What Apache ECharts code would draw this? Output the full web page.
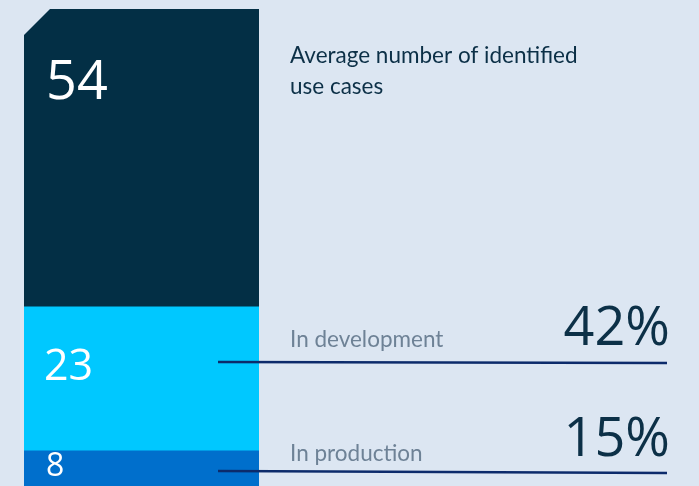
<!DOCTYPE html>
<html>
<head>
<meta charset="utf-8">
<script src="https://cdn.jsdelivr.net/npm/echarts@6/dist/echarts.min.js"></script>
<style>
  html, body { margin: 0; padding: 0; background: #dce6f2; }
  #chart { width: 699px; height: 486px; }
</style>
</head>
<body>
<div id="chart"></div>
<script>
// Use-case funnel: identified -> in development -> in production
const categories = ['Use cases'];
const identified = [54];
const inDevelopment = [23];
const inProduction = [8];
const stageNames = ['In development', 'In production'];
const shareLabels = ['42%', '15%'];
const headline = 'Average number of identified\nuse cases';

const NAVY = '#032f45';
const CYAN = '#00c8ff';
const BLUE = '#006fcc';
const INK = '#0c3047';
const GREY = '#6e8296';
const RULE = '#0c2b6b';

const chart = echarts.init(document.getElementById('chart'), null, { renderer: 'canvas' });

chart.setOption({
  backgroundColor: '#dce6f2',
  animation: false,
  grid: { left: 24, top: 9, width: 235, bottom: 0 },
  xAxis: { type: 'category', data: categories, show: false },
  yAxis: { type: 'value', min: 4.3, max: 54, show: false, splitLine: { show: false } },
  series: [
    {
      // total bar with a clipped top-left corner
      type: 'custom',
      z: 1,
      data: identified.map((v, i) => [i, v]),
      renderItem(params, api) {
        const top = api.coord([api.value(0), api.value(1)]);
        const base = api.coord([api.value(0), 0]);
        const w = api.size([1, 0])[0];
        const x0 = top[0] - w / 2;
        const cut = 26;
        return {
          type: 'group',
          children: [
            {
              type: 'polygon',
              shape: {
                points: [
                  [x0, top[1] + cut], [x0 + cut, top[1]], [x0 + w, top[1]],
                  [x0 + w, base[1]], [x0, base[1]]
                ]
              },
              style: { fill: NAVY }
            },
            {
              type: 'text',
              x: x0 + 22,
              y: top[1] + 75,
              style: {
                text: String(api.value(1)),
                fill: '#ffffff',
                font: '54px "Open Sans"',
                verticalAlign: 'middle',
                align: 'left'
              }
            }
          ]
        };
      }
    },
    {
      type: 'bar',
      z: 2,
      barWidth: '100%',
      barGap: '-100%',
      data: inDevelopment,
      itemStyle: { color: CYAN },
      label: {
        show: true,
        position: [20, 61],
        verticalAlign: 'middle',
        color: '#ffffff',
        fontFamily: 'Open Sans',
        fontSize: 43
      }
    },
    {
      type: 'bar',
      z: 3,
      barWidth: '100%',
      barGap: '-100%',
      data: inProduction,
      itemStyle: { color: BLUE },
      label: {
        show: true,
        position: [22, 16],
        verticalAlign: 'middle',
        color: '#ffffff',
        fontFamily: 'Open Sans',
        fontSize: 32
      }
    }
  ],
  graphic: [
    {
      type: 'text', left: 290, top: 40, z: 10,
      style: { text: headline, fill: INK, font: '22.5px Lato', lineHeight: 31 }
    },
    {
      type: 'text', x: 290, y: 340, z: 10,
      style: { text: stageNames[0], fill: GREY, font: '22.5px Lato', verticalAlign: 'middle' }
    },
    {
      type: 'text', x: 670, y: 330, z: 10,
      style: { text: shareLabels[0], fill: INK, font: '54px "Open Sans"', align: 'right', verticalAlign: 'middle' }
    },
    {
      type: 'line', z: 10,
      shape: { x1: 218, y1: 362, x2: 667, y2: 363 },
      style: { stroke: RULE, lineWidth: 2.5 }
    },
    {
      type: 'text', x: 290, y: 454, z: 10,
      style: { text: stageNames[1], fill: GREY, font: '22.5px Lato', verticalAlign: 'middle' }
    },
    {
      type: 'text', x: 670, y: 441, z: 10,
      style: { text: shareLabels[1], fill: INK, font: '54px "Open Sans"', align: 'right', verticalAlign: 'middle' }
    },
    {
      type: 'line', z: 10,
      shape: { x1: 218, y1: 471, x2: 667, y2: 473 },
      style: { stroke: RULE, lineWidth: 2.5 }
    }
  ]
});
</script>
</body>
</html>
